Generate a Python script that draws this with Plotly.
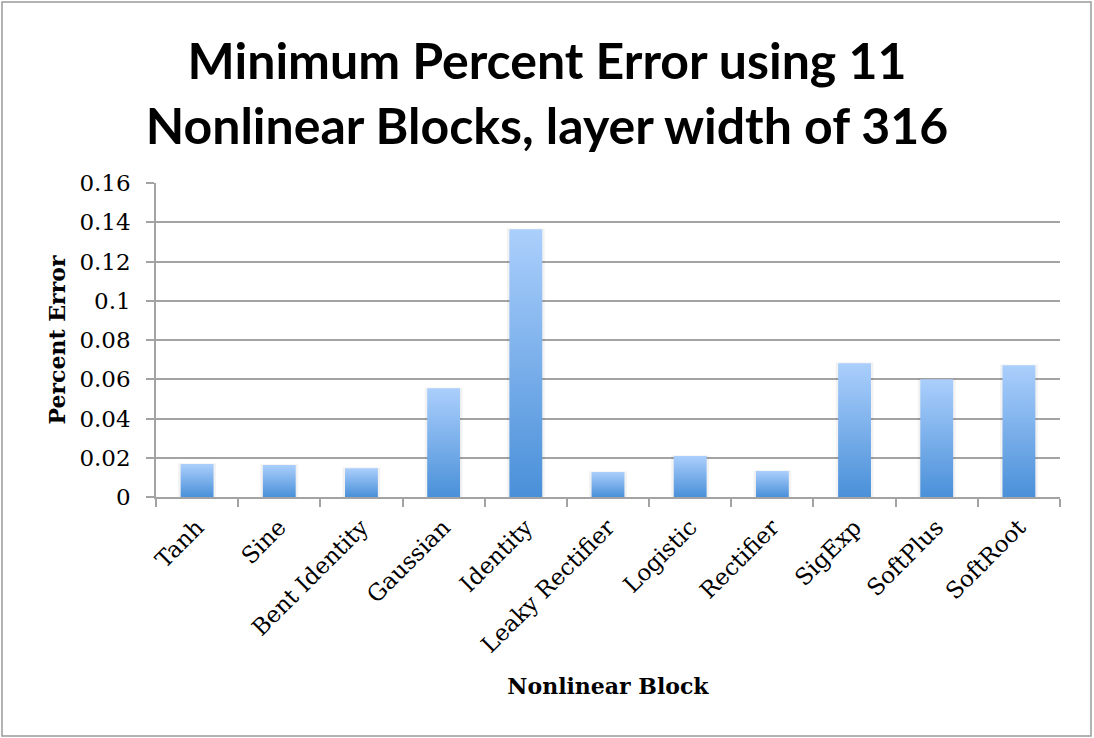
import plotly.graph_objects as go

# Data
categories = ["Tanh", "Sine", "Bent Identity", "Gaussian", "Identity", "Leaky Rectifier",
              "Logistic", "Rectifier", "SigExp", "SoftPlus", "SoftRoot"]
percent_error = [0.0168, 0.0163, 0.0147, 0.0554, 0.1364, 0.0127,
                 0.0209, 0.0132, 0.0682, 0.0600, 0.0671]
y_tick_values = [0, 0.02, 0.04, 0.06, 0.08, 0.10, 0.12, 0.14, 0.16]
y_tick_labels = ["0", "0.02", "0.04", "0.06", "0.08", "0.1", "0.12", "0.14", "0.16"]

# Styling
W, H = 1094, 738
ML, MR, MT, MB = 156, 34, 183, 241
BAR_HALF = 0.20
GRID = "#a3a3a3"
TOP_BLUE = "#abcffc"
BOTTOM_BLUE = "#4a90d9"
SERIF = "DejaVu Serif"

fig = go.Figure()

# soft drop shadow behind each bar
for i, v in enumerate(percent_error):
    h = BAR_HALF + 0.03
    fig.add_trace(go.Scatter(
        x=[i - h, i + h, i + h, i - h, i - h],
        y=[0, 0, v + 0.0004, v + 0.0004, 0],
        mode="lines", fill="toself", line=dict(width=0),
        fillcolor="rgba(0,0,0,0.05)", hoverinfo="skip", showlegend=False,
    ))

# gradient-filled bars, light at the top, darker at the base
for i, (name, v) in enumerate(zip(categories, percent_error)):
    fig.add_trace(go.Scatter(
        x=[i - BAR_HALF, i + BAR_HALF, i + BAR_HALF, i - BAR_HALF, i - BAR_HALF],
        y=[0, 0, v, v, 0],
        mode="lines", fill="toself", line=dict(width=0),
        fillgradient=dict(type="vertical",
                          colorscale=[[0, BOTTOM_BLUE], [1, TOP_BLUE]]),
        name=name, hovertemplate=f"{name}: {v}<extra></extra>", showlegend=False,
    ))

pw = W - ML - MR
ph = H - MT - MB

fig.update_layout(
    width=W, height=H,
    margin=dict(l=ML, r=MR, t=MT, b=MB),
    paper_bgcolor="white", plot_bgcolor="white",
    title=dict(
        text="Minimum Percent Error using 11<br>Nonlinear Blocks, layer width of 316",
        x=0.5, xref="container", xanchor="center",
        y=1 - 79 / H, yref="container", yanchor="middle",
        font=dict(family="Lato", size=50, color="black", weight="bold"),
    ),
    xaxis=dict(
        range=[-0.5, len(categories) - 0.5],
        tickvals=list(range(len(categories))), ticktext=categories,
        tickangle=-45, ticks="", showgrid=False, zeroline=False,
        showline=True, linecolor=GRID, linewidth=1.5,
        tickfont=dict(family=SERIF, size=23, color="black"),
        ticklabelstandoff=6,
        minor=dict(ticks="outside", tick0=-0.5, dtick=1, ticklen=8,
                   tickcolor=GRID, tickwidth=1.5, showgrid=False),
        title=dict(text="Nonlinear Block", standoff=22,
                   font=dict(family=SERIF, size=22, color="black", weight="bold")),
        fixedrange=True,
    ),
    yaxis=dict(
        range=[0, 0.16], tickvals=y_tick_values, ticktext=y_tick_labels,
        ticks="outside", ticklen=8, tickcolor=GRID, tickwidth=1.5,
        ticklabelstandoff=11,
        showgrid=True, gridcolor=GRID, gridwidth=1.5, zeroline=False,
        showline=True, linecolor=GRID, linewidth=1.5,
        tickfont=dict(family=SERIF, size=23, color="black"),
        title=dict(text="Percent Error", standoff=8,
                   font=dict(family=SERIF, size=22, color="black", weight="bold")),
        fixedrange=True,
    ),
    shapes=[dict(
        type="rect", xref="paper", yref="paper",
        x0=(2 - ML) / pw, x1=(W - 3 - ML) / pw,
        y0=-(H - 2 - MT - ph) / ph, y1=(H - 2 - MB) / ph,
        line=dict(color="#9a9a9a", width=1.5), fillcolor="rgba(0,0,0,0)",
        layer="below",
    )],
)

fig.write_html("out.html")
